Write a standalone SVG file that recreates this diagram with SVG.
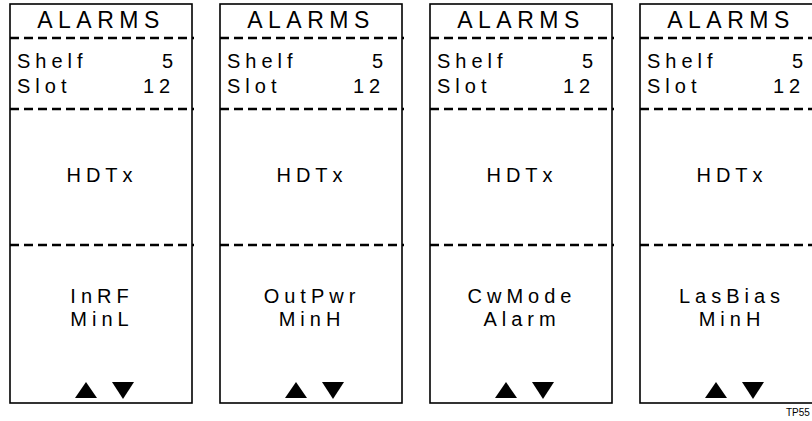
<svg xmlns="http://www.w3.org/2000/svg" width="812" height="421" viewBox="0 0 812 421">
<style>
.box{fill:#fff;stroke:#000;stroke-width:1.6}
.dash{stroke:#000;stroke-width:2.4;stroke-dasharray:9 5;fill:none}
text{font-family:"Liberation Sans",Arial,sans-serif;fill:#000}
.t{font-size:23px;letter-spacing:5.5px;text-anchor:middle}
.b{font-size:20px;letter-spacing:5px}
.c{font-size:20px;letter-spacing:5px;text-anchor:middle}
.tag{font-size:10px}
</style>
<defs>
<g id="frame">
<rect class="box" x="0" y="0" width="182" height="399"/>
<line class="dash" x1="0" y1="34" x2="184" y2="34"/>
<line class="dash" x1="0" y1="105" x2="184" y2="105"/>
<line class="dash" x1="0" y1="241" x2="184" y2="241"/>
<text class="t" x="91" y="24">ALARMS</text>
<text class="b" x="7" y="64">Shelf</text>
<text class="b" x="152" y="64">5</text>
<text class="b" x="7" y="89">Slot</text>
<text class="b" x="133" y="89">12</text>
<text class="c" x="92" y="178">HDTx</text>
<polygon points="65,394 87,394 76,378"/>
<polygon points="102,378 124,378 113,395"/>
</g>
</defs>
<g id="panel1" transform="translate(10,4)">
<use href="#frame"/>
<text class="c" x="92" y="299">InRF</text>
<text class="c" x="92" y="322">MinL</text>
</g>
<g id="panel2" transform="translate(220,4)">
<use href="#frame"/>
<text class="c" x="92" y="299">OutPwr</text>
<text class="c" x="92" y="322">MinH</text>
</g>
<g id="panel3" transform="translate(430,4)">
<use href="#frame"/>
<text class="c" x="92" y="299">CwMode</text>
<text class="c" x="92" y="322">Alarm</text>
</g>
<g id="panel4" transform="translate(640,4)">
<use href="#frame"/>
<text class="c" x="92" y="299">LasBias</text>
<text class="c" x="92" y="322">MinH</text>
</g>
<g id="connectors"/>
<text class="tag" x="786" y="416">TP55</text>
</svg>
